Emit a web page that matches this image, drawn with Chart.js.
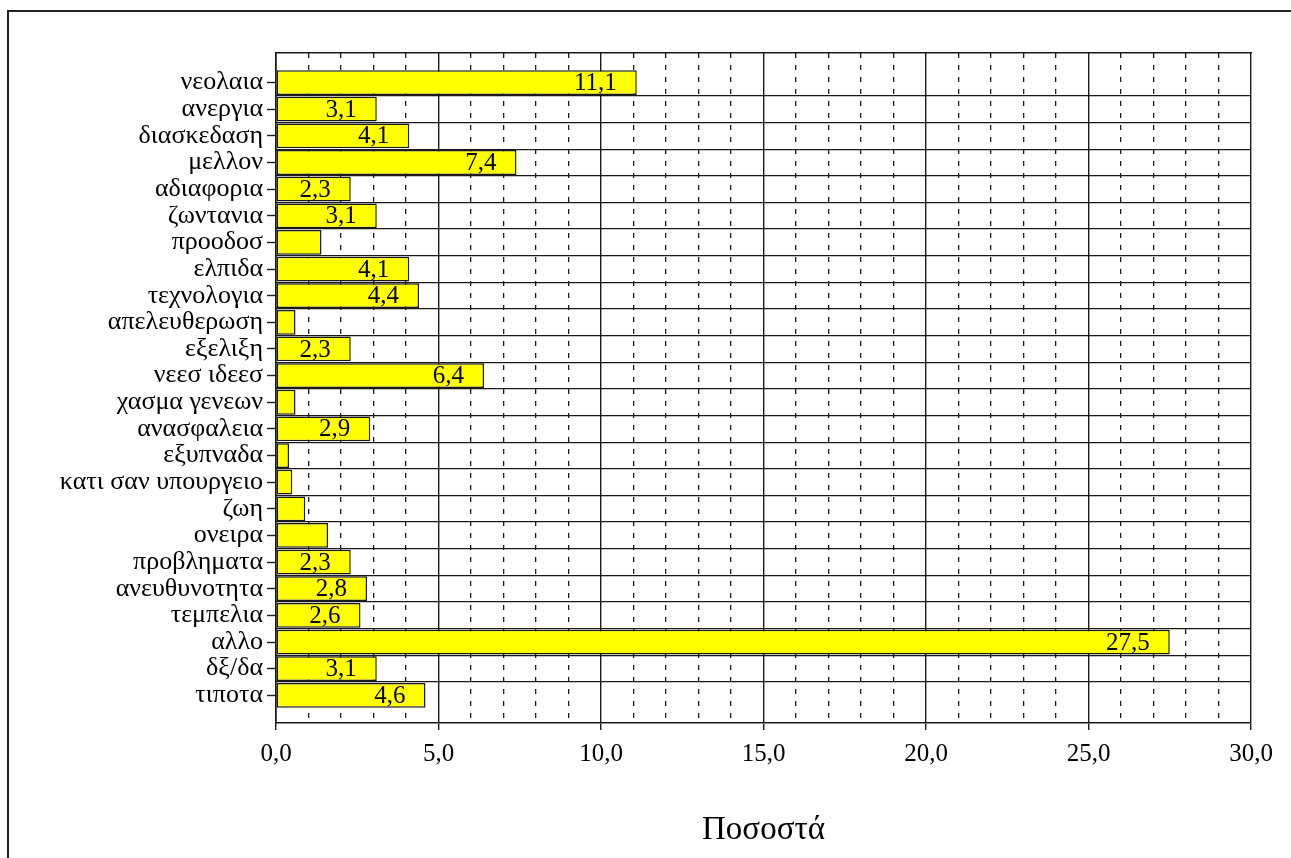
<!DOCTYPE html>
<html>
<head>
<meta charset="utf-8">
<script src="https://cdn.jsdelivr.net/npm/chart.js@4.4.1/dist/chart.umd.min.js"></script>
<style>
  html, body { margin: 0; padding: 0; background: #fff; overflow: hidden; }
  #wrap { position: relative; width: 1291px; height: 858px; }
  #frame { position: absolute; left: 7px; top: 10px; width: 1300px; height: 900px; border: 2px solid #222; box-sizing: border-box; }
  canvas { position: absolute; left: 0; top: 0; }
</style>
</head>
<body>
<div id="wrap">
  <div id="frame"></div>
  <canvas id="chart" width="1291" height="858"></canvas>
</div>
<script>
// categories top to bottom
const categories = [
  'νεολαια', 'ανεργια', 'διασκεδαση', 'μελλον', 'αδιαφορια', 'ζωντανια',
  'προοδοσ', 'ελπιδα', 'τεχνολογια', 'απελευθερωση', 'εξελιξη', 'νεεσ ιδεεσ',
  'χασμα γενεων', 'ανασφαλεια', 'εξυπναδα', 'κατι σαν υπουργειο', 'ζωη',
  'ονειρα', 'προβληματα', 'ανευθυνοτητα', 'τεμπελια', 'αλλο', 'δξ/δα', 'τιποτα'
];
// percentages
const percents = [
  11.1, 3.1, 4.1, 7.4, 2.3, 3.1,
  1.4, 4.1, 4.4, 0.6, 2.3, 6.4,
  0.6, 2.9, 0.4, 0.5, 0.9,
  1.6, 2.3, 2.8, 2.6, 27.5, 3.1, 4.6
];
const xMin = 0, xMax = 30;
const majorStep = 5, minorStep = 1;
const labelMin = 2; // smaller bars carry no value label

const SERIF = '"Liberation Serif", "Times New Roman", serif';
const INK = '#1a1a1a';

function fmt(v) {
  return v.toFixed(1).replace('.', ',');
}

// the original leaves some empty room above the first and below the last row
// (in row units), on top of the usual half row of the category offset
function padRows(axis) {
  axis._startValue -= 0.61;
  axis._valueRange += 1.15;
}

// value labels drawn inside the bars, right aligned
const barLabels = {
  id: 'barLabels',
  afterDatasetsDraw(chart) {
    const ctx = chart.ctx;
    const meta = chart.getDatasetMeta(0);
    ctx.save();
    ctx.font = '25px ' + SERIF;
    ctx.fillStyle = '#000';
    ctx.textAlign = 'right';
    ctx.textBaseline = 'middle';
    meta.data.forEach((bar, i) => {
      const v = percents[i];
      if (v < labelMin) return;
      ctx.fillText(fmt(v), bar.x - 20, bar.y + 1);
    });
    ctx.restore();
  }
};

new Chart(document.getElementById('chart'), {
  type: 'bar',
  data: {
    labels: categories,
    datasets: [{
      data: percents,
      backgroundColor: '#ffff00',
      borderColor: INK,
      borderWidth: 1.5,
      borderSkipped: false,
      barPercentage: 0.93,
      categoryPercentage: 1
    }]
  },
  options: {
    indexAxis: 'y',
    responsive: false,
    animation: false,
    layout: { padding: { top: 53, right: 40, bottom: 0, left: 0 } },
    plugins: {
      legend: { display: false },
      tooltip: { enabled: false }
    },
    scales: {
      x: {
        type: 'linear',
        position: 'bottom',
        min: xMin,
        max: xMax,
        weight: 0,
        ticks: {
          stepSize: majorStep,
          color: '#000',
          font: { family: SERIF, size: 25 },
          padding: 9,
          callback: v => fmt(v)
        },
        grid: { color: INK, lineWidth: 1.4, tickLength: 7, tickColor: INK },
        border: { color: INK, width: 1.6 },
        title: {
          display: true,
          text: 'Ποσοστά',
          color: '#000',
          font: { family: SERIF, size: 33 },
          padding: { top: 0, bottom: 8 }
        },
        afterFit: s => { s.height = 135; }
      },
      xMinor: {
        type: 'linear',
        position: 'bottom',
        min: xMin,
        max: xMax,
        weight: -1,
        ticks: { display: false, stepSize: minorStep },
        grid: {
          drawTicks: false,
          lineWidth: 1.3,
          color: c => (c.tick && c.tick.value % majorStep === 0) ? 'rgba(0,0,0,0)' : INK
        },
        border: { display: false, dash: [5, 7] },
        afterFit: s => { s.height = 0; }
      },
      xTop: {
        type: 'linear',
        position: 'top',
        min: xMin,
        max: xMax,
        ticks: { display: false },
        grid: { drawOnChartArea: false, drawTicks: false },
        border: { color: INK, width: 1.6 },
        afterFit: s => { s.height = 0; }
      },
      y: {
        type: 'category',
        position: 'left',
        offset: true,
        weight: 0,
        ticks: {
          color: '#000',
          font: { family: SERIF, size: 26 },
          padding: 4,
          autoSkip: false
        },
        grid: { offset: false, drawOnChartArea: false, tickLength: 9, tickColor: INK, tickWidth: 1.4 },
        border: { color: INK, width: 1.6 },
        afterBuildTicks: padRows,
        afterFit: s => { s.width = 276; }
      },
      yRows: {
        type: 'category',
        position: 'left',
        offset: true,
        weight: -1,
        ticks: { display: false },
        grid: {
          offset: true,
          drawTicks: false,
          lineWidth: 1.3,
          // only the lines between rows, none above the first or below the last
          color: c => (c.type === 'tick' && c.index > 0) ? INK : 'rgba(0,0,0,0)'
        },
        border: { display: false },
        afterBuildTicks: padRows,
        afterFit: s => { s.width = 0; }
      }
    }
  },
  plugins: [barLabels]
});
</script>
</body>
</html>
